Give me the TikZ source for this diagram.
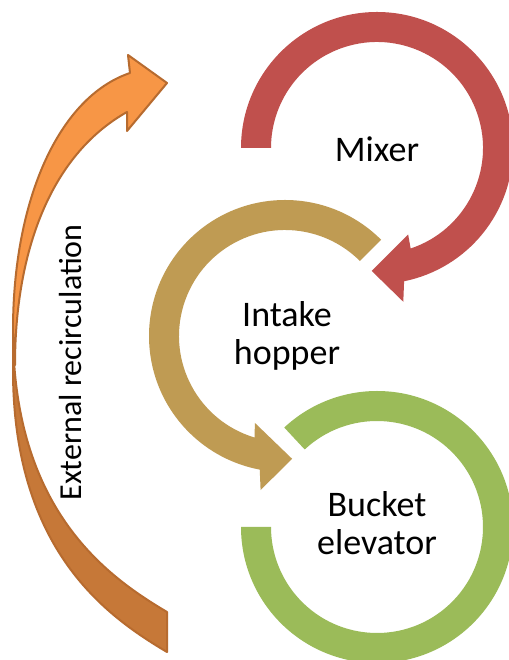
\documentclass[tikz,border=0pt]{standalone}
\usepackage{fontspec}
\setmainfont{Carlito}
\usetikzlibrary{calc}
\definecolor{mixred}{HTML}{C0504D}
\definecolor{hopgold}{HTML}{BF9B53}
\definecolor{elevgreen}{HTML}{9BBB59}
\definecolor{recfront}{HTML}{F79646}
\definecolor{recback}{HTML}{C67838}
\definecolor{recline}{HTML}{B76B2F}
\begin{document}
\begin{tikzpicture}[x=1pt,y=1pt,
  lbl/.style={font=\fontsize{36}{38}\selectfont, inner sep=0pt, anchor=base},
  reclbl/.style={font=\fontsize{32}{38}\selectfont, inner sep=0pt, anchor=base, rotate=90},
  recshape/.style={draw=recline, line width=2pt, line join=round}]
\useasboundingbox (0,0) rectangle (508,660);
\fill[white] (0,0) rectangle (508,660);
\coordinate (mc) at (377,512);
\coordinate (hc) at (285,324);
\coordinate (ec) at (377,133);
% Bucket elevator ring
\fill[elevgreen] ($(ec)+(180:106)$) -- ($(ec)+(180:136)$)
  arc[start angle=180, end angle=493, radius=136]
  -- ($(ec)+(493:106)$) arc[start angle=493, end angle=180, radius=106] -- cycle;
% Mixer arrow
\fill[mixred] ($(mc)+(180:106)$) -- ($(mc)+(180:136)$)
  arc[start angle=180, end angle=-78.5, radius=136]
  -- ($(mc)+(-80.3:156)$) -- ($(mc)+(-92.5:123)$) -- ($(mc)+(-70.2:92)$)
  -- ($(mc)+(-71.5:106)$) arc[start angle=-71.5, end angle=180, radius=106] -- cycle;
% Intake hopper arrow
\fill[hopgold] ($(hc)+(45:106)$) -- ($(hc)+(45:136)$)
  arc[start angle=45, end angle=259.3, radius=136]
  -- ($(hc)+(261:156)$) -- ($(hc)+(273.3:123)$) -- ($(hc)+(250.9:92)$)
  -- ($(hc)+(253.3:106)$) arc[start angle=253.3, end angle=45, radius=106] -- cycle;
% External recirculation arrow: back face (tail)
\filldraw[recshape, fill=recback]
  (13,290) .. controls (13,110) and (106.8,43.7) .. (167,8)
  -- (167,48) .. controls (106.8,83.7) and (13,150) .. (13,330) -- cycle;
% front face with arrowhead
\filldraw[recshape, fill=recfront]
  (127,548) -- (127,529) -- (167,577) -- (128,605) -- (130,587)
  .. controls (58.75,563) and (13,460) .. (13,330)
  -- (15,295)
  .. controls (15,405) and (48.7,503.9) .. (127,548) -- cycle;
% labels
\node[lbl] (mixer) at (377,498) {Mixer};
\node[lbl] (hopper) at (287,333) {\begin{tabular}[t]{@{}c@{}}Intake\\hopper\end{tabular}};
\node[lbl] (elevator) at (377,143) {\begin{tabular}[t]{@{}c@{}}Bucket\\elevator\end{tabular}};
\node[reclbl] (recirc) at (81,297.5) {External recirculation};
\end{tikzpicture}
\end{document}
